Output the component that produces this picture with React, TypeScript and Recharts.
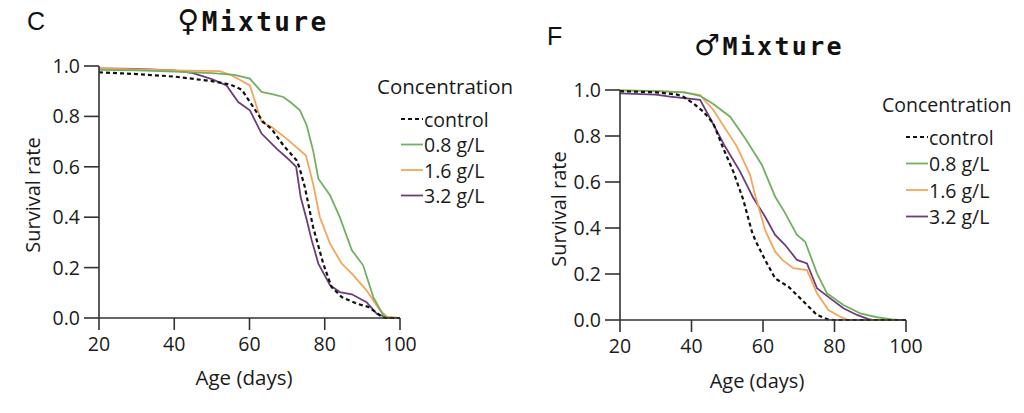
import React from "react";
import { Line, LineChart, XAxis, YAxis } from "recharts";

interface Point {
  age: number;
  rate: number;
}

const toPoints = (pairs: number[][]): Point[] => pairs.map(([age, rate]) => ({ age, rate }));

// female survival (panel C)
const femaleControl = toPoints([
  [20, 0.975], [30, 0.968], [40, 0.958], [50, 0.94], [55, 0.926], [58, 0.905], [61, 0.837],
  [63.6, 0.778], [65.9, 0.75], [69, 0.685], [72.5, 0.626], [73.2, 0.6], [74.7, 0.52], [76.9, 0.361],
  [79.6, 0.216], [81.8, 0.123], [84.5, 0.083], [88.5, 0.057], [91.6, 0.044], [94.7, 0.01], [96, 0], [100, 0],
]);
const femaleLow = toPoints([
  [20, 0.985], [30, 0.983], [40, 0.978], [50, 0.972], [56, 0.965], [60.1, 0.95], [63.2, 0.897],
  [66, 0.888], [69, 0.877], [71, 0.855], [73.4, 0.824], [75.2, 0.765], [76.9, 0.665], [78.3, 0.553],
  [81.4, 0.487], [84, 0.4], [87.2, 0.269], [90.2, 0.209], [92.9, 0.083], [95.6, 0.01], [97, 0], [100, 0],
]);
const femaleMid = toPoints([
  [20, 0.99], [30, 0.987], [40, 0.983], [52, 0.98], [55, 0.965], [60.1, 0.923], [63.2, 0.778],
  [65.9, 0.758], [70, 0.71], [75, 0.645], [76.9, 0.533], [78.7, 0.4], [81.4, 0.295], [84.5, 0.216],
  [87.2, 0.176], [91.1, 0.11], [94.7, 0.03], [96.5, 0.005], [100, 0],
]);
const femaleHigh = toPoints([
  [20, 0.99], [30, 0.988], [40, 0.983], [45, 0.972], [50, 0.948], [53.9, 0.923], [57, 0.857],
  [60.1, 0.824], [63.2, 0.732], [67.2, 0.672], [70, 0.635], [72.4, 0.6], [73.6, 0.48], [75.2, 0.39],
  [76.5, 0.31], [78.3, 0.216], [81.4, 0.13], [84, 0.103], [87.2, 0.094], [91.1, 0.063], [93.8, 0.017],
  [95.6, 0.007], [97, 0], [100, 0],
]);

// male survival (panel F)
const maleControl = toPoints([
  [20, 0.995], [30, 0.99], [36, 0.98], [37.7, 0.971], [40.5, 0.942], [43.3, 0.906], [46.1, 0.855],
  [48.9, 0.746], [51.7, 0.645], [54.5, 0.522], [56.9, 0.384], [57.8, 0.348], [60.6, 0.261], [63.4, 0.181],
  [67.1, 0.145], [70.9, 0.087], [75.1, 0.022], [77.9, 0.004], [79.7, 0], [100, 0],
]);
const maleLow = toPoints([
  [20, 0.998], [30, 0.995], [38, 0.99], [42.4, 0.975], [46, 0.94], [50.8, 0.884], [55, 0.79],
  [59.7, 0.674], [63.4, 0.536], [66, 0.47], [69.5, 0.37], [71.8, 0.34], [75.1, 0.203], [77.9, 0.116],
  [82.5, 0.065], [87.2, 0.029], [91.9, 0.012], [96, 0.003], [98, 0], [100, 0],
]);
const maleMid = toPoints([
  [20, 0.998], [30, 0.996], [38, 0.99], [42.4, 0.978], [46.1, 0.913], [52.7, 0.754], [56.4, 0.63],
  [57.8, 0.543], [60.6, 0.391], [63.4, 0.297], [65.5, 0.26], [68.5, 0.225], [72.3, 0.217], [75.1, 0.116],
  [78.3, 0.043], [81.6, 0.014], [83.9, 0], [100, 0],
]);
const maleHigh = toPoints([
  [20, 0.985], [30, 0.98], [34, 0.971], [42.4, 0.957], [45.2, 0.877], [49.4, 0.754], [53.6, 0.645],
  [57.3, 0.53], [60.6, 0.449], [63.4, 0.37], [66.2, 0.326], [69.5, 0.261], [72.3, 0.246], [75.1, 0.138],
  [78.8, 0.094], [82.5, 0.051], [86.3, 0.022], [89.5, 0.004], [90.8, 0], [100, 0],
]);

const ageTicks = [20, 40, 60, 80, 100];
const rateTicks = [0, 0.2, 0.4, 0.6, 0.8, 1.0];
const seriesNames = ["control", "0.8 g/L", "1.6 g/L", "3.2 g/L"];
const colors = ["#111111", "#72b061", "#f4a55a", "#6b3d7d"];

const FONT = "'Open Sans', sans-serif";
const AXIS = "#333333";
const INK = "#1a1a1a";

function ConcLegend({ left, top, rowGap, titleSize }: { left: number; top: number; rowGap: number; titleSize: number }) {
  return (
    <svg width={150} height={140} style={{ position: "absolute", left, top, overflow: "visible" }}>
      <text x={0} y={0} fontFamily={FONT} fontSize={titleSize} fill={INK} dominantBaseline="central">
        Concentration
      </text>
      {seriesNames.map((name, i) => {
        const y = 33 + i * rowGap;
        return (
          <g key={name}>
            <line
              x1={24}
              x2={46}
              y1={y}
              y2={y}
              stroke={colors[i]}
              strokeWidth={i === 0 ? 2.2 : 1.8}
              strokeDasharray={i === 0 ? "4 3" : undefined}
            />
            <text x={47} y={y} fontFamily={FONT} fontSize={19.5} fill={INK} dominantBaseline="central">
              {name}
            </text>
          </g>
        );
      })}
    </svg>
  );
}

function Panel(props: {
  series: Point[][];
  width: number;
  plotLeft: number;
  plotRight: number;
  plotTop: number;
  plotBottom: number;
}) {
  const { series, width, plotLeft, plotRight, plotTop, plotBottom } = props;
  const height = 413;
  return (
    <LineChart
      width={width}
      height={height}
      margin={{ top: plotTop, right: width - plotRight, bottom: 0, left: 0 }}
    >
      <XAxis
        type="number"
        dataKey="age"
        domain={[20, 100]}
        ticks={ageTicks}
        interval={0}
        height={height - plotBottom}
        tickSize={12}
        tickMargin={7}
        stroke={AXIS}
        strokeWidth={1.6}
        tick={{ fontFamily: FONT, fontSize: 19.5, fill: INK }}
        allowDataOverflow
      />
      <YAxis
        type="number"
        dataKey="rate"
        domain={[0, 1]}
        ticks={rateTicks}
        interval={0}
        width={plotLeft}
        tickSize={15}
        tickMargin={4}
        stroke={AXIS}
        strokeWidth={1.6}
        tickFormatter={(v: number) => v.toFixed(1)}
        tick={{ fontFamily: FONT, fontSize: 19.5, fill: INK }}
      />
      {series
        .map((data, i) => (
          <Line
            key={seriesNames[i]}
            data={data}
            dataKey="rate"
            name={seriesNames[i]}
            type="linear"
            stroke={colors[i]}
            strokeWidth={i === 0 ? 2.2 : 1.8}
            strokeDasharray={i === 0 ? "4 3" : undefined}
            dot={false}
            activeDot={false}
            isAnimationActive={false}
          />
        ))
        .reverse()}
    </LineChart>
  );
}

export default function App() {
  return (
    <div style={{ position: "absolute", left: 0, top: 0, width: 1024, height: 413, background: "#fff", overflow: "hidden" }}>
      <div style={{ position: "absolute", left: 0, top: 0 }}>
        <Panel
          series={[femaleControl, femaleLow, femaleMid, femaleHigh]}
          width={520}
          plotLeft={99}
          plotRight={400}
          plotTop={66}
          plotBottom={318}
        />
      </div>
      <div style={{ position: "absolute", left: 520, top: 0 }}>
        <Panel
          series={[maleControl, maleLow, maleMid, maleHigh]}
          width={504}
          plotLeft={100}
          plotRight={386}
          plotTop={90}
          plotBottom={320}
        />
      </div>
      <ConcLegend left={377} top={86} rowGap={25.5} titleSize={20.5} />
      <ConcLegend left={882} top={104} rowGap={26.5} titleSize={19.5} />
      <svg width={1024} height={413} style={{ position: "absolute", left: 0, top: 0, pointerEvents: "none" }}>
        <text x={27} y={30} fontFamily="'Liberation Sans', sans-serif" fontSize={25} fill="#111">C</text>
        <text x={253} y={31} textAnchor="middle" fontFamily="'DejaVu Sans Mono', monospace" fontWeight="bold" fontSize={26} letterSpacing={2.5} fill="#111">
          <tspan fontFamily="'DejaVu Sans', sans-serif" fontWeight="normal" fontSize={30}>♀</tspan>Mixture
        </text>
        <text x={547} y={45} fontFamily="'Liberation Sans', sans-serif" fontSize={25} fill="#111">F</text>
        <text x={769} y={55} textAnchor="middle" fontFamily="'DejaVu Sans Mono', monospace" fontWeight="bold" fontSize={25} letterSpacing={2.3} fill="#111">
          <tspan fontFamily="'DejaVu Sans', sans-serif" fontWeight="normal" fontSize={29}>♂</tspan>Mixture
        </text>
        <text x={244} y={377} textAnchor="middle" dominantBaseline="central" fontFamily={FONT} fontSize={20.5} fill={INK}>Age (days)</text>
        <text x={757} y={380} textAnchor="middle" dominantBaseline="central" fontFamily={FONT} fontSize={20} fill={INK}>Age (days)</text>
        <text x={32} y={195} textAnchor="middle" dominantBaseline="central" transform="rotate(-90 32 195)" fontFamily={FONT} fontSize={20} fill={INK}>Survival rate</text>
        <text x={558} y={209} textAnchor="middle" dominantBaseline="central" transform="rotate(-90 558 209)" fontFamily={FONT} fontSize={20} fill={INK}>Survival rate</text>
      </svg>
    </div>
  );
}
